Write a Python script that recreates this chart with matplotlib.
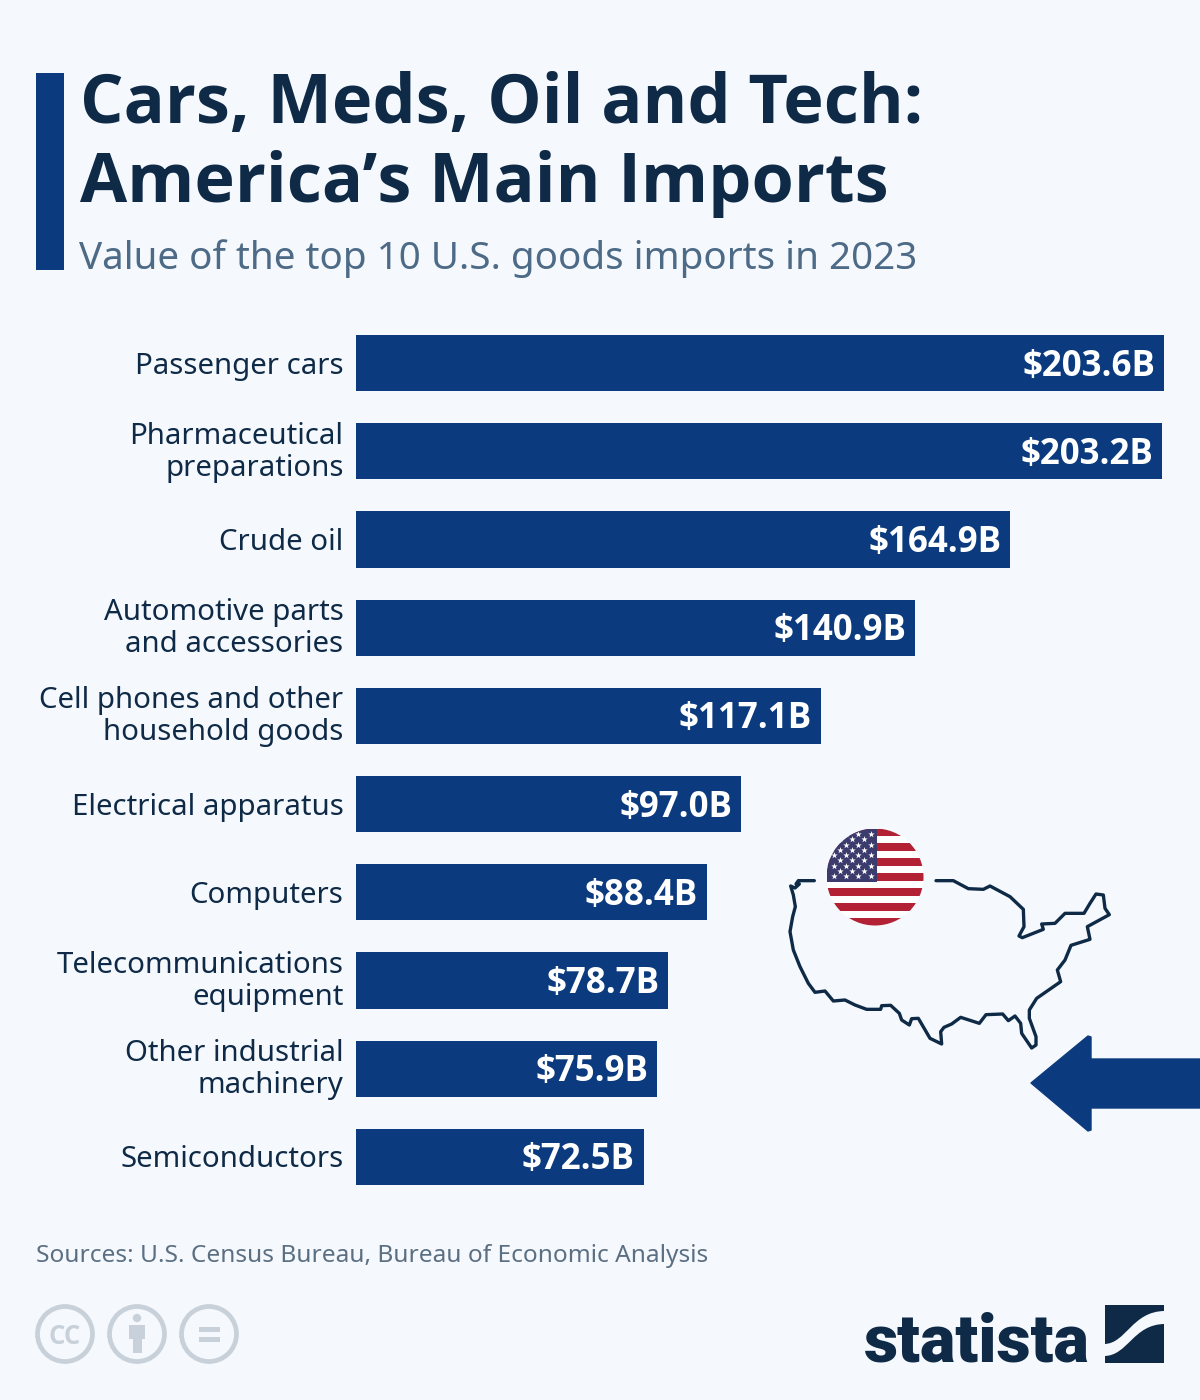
# top 10 US goods imports 2023, statista style bar chart

import matplotlib
matplotlib.use("Agg")
import matplotlib.pyplot as plt
import numpy as np
from matplotlib.patches import Circle, Rectangle, Polygon, PathPatch
from matplotlib.path import Path

categories = ["Passenger cars", "Pharmaceutical\npreparations", "Crude oil",
              "Automotive parts\nand accessories", "Cell phones and other\nhousehold goods",
              "Electrical apparatus", "Computers", "Telecommunications\nequipment",
              "Other industrial\nmachinery", "Semiconductors"]
values = [203.6, 203.2, 164.9, 140.9, 117.1, 97.0, 88.4, 78.7, 75.9, 72.5]

title_lines = "Cars, Meds, Oil and Tech:\nAmerica\u2019s Main Imports"
subtitle = "Value of the top 10 U.S. goods imports in 2023"
source = "Sources: U.S. Census Bureau, Bureau of Economic Analysis"

BG = "#f5f9fd"
BLUE = "#0b3b7e"
DARK = "#0f2a46"
SUB = "#4d6a86"
GREY = "#c8d1d9"
BOLD = ["Open Sans", "DejaVu Sans"]  # the installed Noto Sans has no bold

# map outline (crop pixels, offset 770/810, scale 3)
outline = [(133,212),(85,212),(78,222),(88,222),(75,234),(62,228),(70,255),(76,290),(68,320),(60,365),
           (70,420),(90,470),(115,520),(135,547),(165,543),(190,573),(225,570),(255,585),(290,598),(332,598),
           (335,587),(362,586),(388,610),(395,630),(418,645),(425,626),(445,625),(480,685),(515,702),(512,665),
           (522,652),(545,642),(572,622),(628,640),(648,614),(698,612),(715,632),(735,618),(752,640),(755,670),
           (785,714),(798,705),(798,680),(778,625),(778,600),(800,565),(872,515),(862,480),(885,450),(903,406),
           (960,388),(952,350),(1018,314),(1005,295),(1000,255),(978,252),(960,280),(942,310),(885,310),(855,340),
           (815,342),(820,358),(757,383),(747,378),(762,350),(760,298),(720,260),(660,228),(640,238),(595,236),
           (550,212),(498,212)]

plt.rcParams["font.family"] = ["Noto Sans", "DejaVu Sans"]

fig = plt.figure(figsize=(12, 14), dpi=100, facecolor=BG)

# bars
ax = fig.add_axes([356 / 1200, 1 - 1201 / 1400, 808 / 1200, 882 / 1400])
ax.set_facecolor("none")
y = np.arange(len(values))
ax.barh(y, values, height=0.635, color=BLUE)
ax.set_xlim(0, 203.6)
ax.set_ylim(len(values) - 0.5, -0.5)
ax.set_yticks([])
ax.xaxis.set_visible(False)
for s in ax.spines.values():
    s.set_visible(False)
# labels by hand, one and two line ones need a different nudge
for i, label in enumerate(categories):
    dy = -0.6 if "\n" in label else -2.2
    ax.annotate(label, (0, i), xytext=(-9, dy), textcoords="offset points", ha="right", va="center",
                ma="right", color=DARK, fontsize=21.2, linespacing=1.14, annotation_clip=False)
for i, v in enumerate(values):
    ax.annotate(f"${v:.1f}B", (v, i), xytext=(-6.3, 0.7), textcoords="offset points",
                ha="right", va="center_baseline", color="white", fontsize=25.1, fontweight="bold", family=BOLD)

# everything else in pixel coordinates
ov = fig.add_axes([0, 0, 1, 1], facecolor="none")
ov.set_xlim(0, 1200)
ov.set_ylim(1400, 0)
ov.axis("off")

ov.add_patch(Rectangle((36, 73), 28, 197, color=BLUE, lw=0))
ov.text(79.5, 123.5, title_lines.split("\n")[0], fontsize=49.2, fontweight="bold", color=DARK, va="baseline", family=BOLD)
ov.text(79.5, 202.5, title_lines.split("\n")[1], fontsize=49.2, fontweight="bold", color=DARK, va="baseline", family=BOLD)
ov.text(79, 269.5, subtitle, fontsize=27.8, color=SUB, va="baseline")
ov.text(36, 1262, source, fontsize=17.6, color="#5b6f83", va="baseline")

# map
xs = [770 + p[0] / 3 for p in outline]
ys = [810 + p[1] / 3 for p in outline]
ov.plot(xs, ys, color=DARK, lw=2.4, solid_joinstyle="round", solid_capstyle="round")

# flag
cx, cy, r = 875, 877, 48.5
clip = Circle((cx, cy), r, transform=ov.transData)
for k in range(13):
    c = "#b22234" if k % 2 == 0 else "white"
    ov.add_patch(Rectangle((cx - r, cy - r + k * 97 / 13), 2 * r, 97 / 13 + 0.3, color=c, lw=0, clip_path=clip))
ov.add_patch(Rectangle((cx - r, cy - r), 50.5, 53, color="#3c3b6e", lw=0, clip_path=clip))
for row in range(9):
    sy = 834 + row * 5.25
    sx = np.arange(840 if row % 2 else 834, 876, 12.2)
    pts = ov.scatter(sx, [sy] * len(sx), marker="*", s=24, color="white", lw=0, zorder=3)
    pts.set_clip_path(clip)

# arrow
ov.add_patch(Polygon([(1200, 1059), (1091, 1059), (1091, 1037), (1088, 1036), (1031, 1083),
                      (1088, 1131), (1091, 1130), (1091, 1108), (1200, 1108)],
                     closed=True, fc=BLUE, ec=BLUE, lw=1, joinstyle="round"))

# licence icons
for c in (65, 137, 209):
    ov.add_patch(Circle((c, 1334), 27.5, fc="none", ec=GREY, lw=3.4))
ov.text(65, 1334, "CC", fontsize=18.5, fontweight="bold", color=GREY, ha="center", va="center_baseline", family=BOLD)
ov.add_patch(Circle((137, 1318), 4.2, color=GREY, lw=0))
ov.add_patch(Rectangle((129, 1325), 16, 14, color=GREY, lw=0))
ov.add_patch(Rectangle((132.5, 1339), 9, 14, color=GREY, lw=0))
ov.add_patch(Rectangle((199, 1327), 21, 5, color=GREY, lw=0))
ov.add_patch(Rectangle((199, 1337), 21, 5, color=GREY, lw=0))

# logo
ov.text(1090, 1361, "statista", fontsize=48, fontweight="black", color=DARK, ha="right", va="baseline",
        family=["Roboto", "DejaVu Sans"])
ov.add_patch(Rectangle((1105, 1305), 59, 58, color=DARK, lw=0))
band = Path([(1104, 1356), (1128, 1356), (1133, 1324), (1165, 1324),
             (1165, 1311),
             (1132, 1311), (1126, 1344), (1104, 1344), (1104, 1356)],
            [Path.MOVETO, Path.CURVE4, Path.CURVE4, Path.CURVE4,
             Path.LINETO,
             Path.CURVE4, Path.CURVE4, Path.CURVE4, Path.CLOSEPOLY])
ov.add_patch(PathPatch(band, fc=BG, ec="none"))

fig.savefig("out.png", dpi=100, facecolor=BG)
